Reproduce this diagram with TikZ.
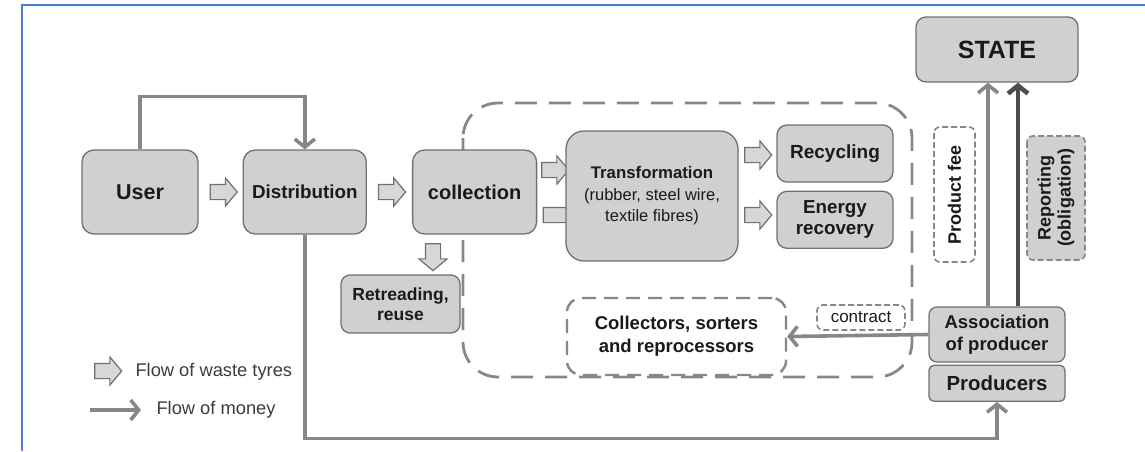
\documentclass[tikz,border=0pt]{standalone}
\usepackage{fontspec}
\setmainfont{Liberation Sans}
\usetikzlibrary{arrows.meta, positioning, shapes.arrows}
\definecolor{boxgray}{RGB}{208, 208, 208}
\definecolor{edgegray}{RGB}{112, 112, 112}
\definecolor{moneygray}{RGB}{135, 135, 135}
\definecolor{darkline}{RGB}{78, 78, 78}
\definecolor{frameblue}{RGB}{74, 126, 208}
\definecolor{inkgray}{RGB}{26, 26, 26}

\begin{document}
\begin{tikzpicture}[x=1pt, y=-1pt,
    box/.style={draw=edgegray, line width=1.3pt, fill=boxgray, rounded corners=12pt,
                align=center, inner sep=2pt, text=inkgray,
                font=\bfseries\fontsize{18.5}{21.5}\selectfont},
    dbox/.style={box, fill=white, dashed, dash pattern=on 6pt off 3pt, line width=1.6pt,
                 rounded corners=6pt},
    flow/.style={single arrow, draw=edgegray, line width=1.2pt, fill=boxgray!85,
                 single arrow head extend=6.5pt, single arrow tip angle=100,
                 inner sep=7pt, minimum height=27pt},
    money/.style={-{Straight Barb[length=8pt, width=20pt]}, line width=3.6pt, moneygray},
    legend/.style={anchor=west, text=inkgray!85, font=\fontsize{18.3}{21}\selectfont}
  ]
    \useasboundingbox (0,0) rectangle (1145,451);
    \draw[frameblue, line width=1.6pt] (22,451) -- (22,5) -- (1145,5);

    \draw[moneygray, line width=2.8pt, dash pattern=on 22pt off 12pt, rounded corners=35pt]
      (463,103) rectangle (912,377);

    \node[box, minimum width=116pt, minimum height=84pt,
          font=\bfseries\fontsize{21.5}{24}\selectfont] (user) at (140,192) {User};
    \node[box, minimum width=123pt, minimum height=84pt, right=44pt of user,
          font=\bfseries\fontsize{18.8}{22}\selectfont] (dist) {Distribution};
    \node[box, minimum width=124pt, minimum height=84pt, right=45pt of dist,
          font=\bfseries\fontsize{20}{24}\selectfont] (coll) {collection};
    \node[box, minimum width=119pt, minimum height=58pt, rounded corners=9pt,
          font=\bfseries\fontsize{17.5}{20}\selectfont] (retr) at (400.5,304) {Retreading,\\reuse};

    \node[flow, right=11pt of user] (f1) {};
    \node[flow, right=11pt of dist] (f2) {};
    \node[flow, shape border rotate=270] (f3) at (433,254) {};
    \node[flow] (f4) at (552,170) {};
    \node[flow, minimum height=40pt] (f5) at (560,215) {};

    \node[box, minimum width=172pt, minimum height=130pt, rounded corners=18pt,
          font=\fontsize{16.5}{21.5}\selectfont] (trans) at (652,196)
          {{\bfseries\fontsize{16.8}{27}\selectfont Transformation}\\(rubber, steel wire,\\textile fibres)};
    \node[box, minimum width=116pt, minimum height=57pt, rounded corners=10pt,
          font=\bfseries\fontsize{19}{22}\selectfont] (recyc) at (835,153.5) {Recycling};
    \node[box, minimum width=116pt, minimum height=57pt, rounded corners=10pt, below=8pt of recyc,
          font=\bfseries\fontsize{18.8}{21}\selectfont] (energy) {Energy\\recovery};
    \node[flow] (f6) at (755,155) {};
    \node[flow] (f7) at (755,215) {};

    \node[dbox, minimum width=219pt, minimum height=77pt, rounded corners=14pt,
          dash pattern=on 14pt off 8pt, line width=2.4pt, draw=moneygray,
          font=\bfseries\fontsize{18.5}{23}\selectfont] (colls) at (676.5,336.5)
          {Collectors, sorters\\and reprocessors};
    \node[dbox, minimum width=88pt, minimum height=25pt, draw=moneygray,
          font=\fontsize{17}{19}\selectfont] (contr) at (861,317.5) {contract};

    \node[box, minimum width=162pt, minimum height=65pt, rounded corners=10pt,
          font=\bfseries\fontsize{25}{29}\selectfont] (state) at (997,49.5) {STATE};
    \node[box, minimum width=136pt, minimum height=55pt, rounded corners=8pt] (assoc) at (997,334.5)
          {Association\\of producer};
    \node[box, minimum width=136pt, minimum height=36pt, rounded corners=5pt, below=2pt of assoc,
          font=\bfseries\fontsize{20.4}{24}\selectfont] (prod) {Producers};

    \node[dbox, rotate=90, minimum width=135pt, minimum height=41pt, draw=moneygray,
          font=\bfseries\fontsize{18}{21}\selectfont] (fee) at (954.5,194.5) {Product fee};
    \node[dbox, rotate=90, minimum width=124pt, minimum height=58pt, draw=moneygray, fill=boxgray,
          font=\bfseries\fontsize{18}{20}\selectfont] (report) at (1056,198) {Reporting\\(obligation)};

    \draw[money] (user.north) -- ++(0,-53) -| (dist.north);
    \draw[money] (dist.south) -- ++(0,204) -| (prod.south);
    \draw[money] (assoc.west) -- (colls.east);
    \draw[money] ([xshift=-9pt]assoc.north) -- ([xshift=-9pt]state.south);
    \draw[money, darkline, line width=4.6pt] ([xshift=21pt]assoc.north) -- ([xshift=21pt]state.south);

    \node[flow] (legw) at (105,371) {};
    \node[legend] (legwt) at (132,372) {Flow of waste tyres};
    \coordinate (legm) at (90,410);
    \node[legend] (legmt) at (153,410) {Flow of money};
    \draw[money] (legm) -- ([xshift=-12pt]legmt.west);
  \end{tikzpicture}
\end{document}
